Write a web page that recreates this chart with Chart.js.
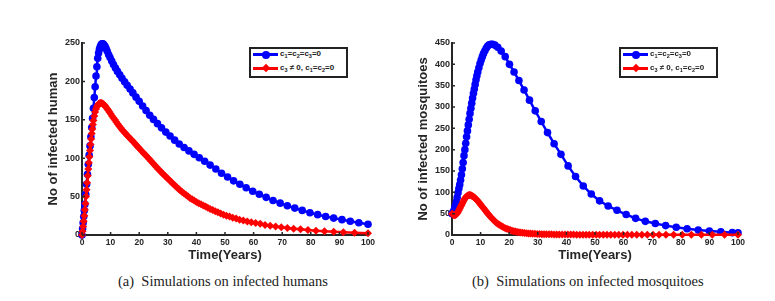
<!DOCTYPE html>
<html>
<head>
<meta charset="utf-8">
<script src="https://cdn.jsdelivr.net/npm/chart.js@4.4.0/dist/chart.umd.min.js"></script>
<style>
    body { margin: 0; background: #fff; width: 775px; height: 301px; position: relative; overflow: hidden; font-family: 'Liberation Sans', Arial, sans-serif; }
    canvas { position: absolute; }
    .legend { position: absolute; top: 47px; width: 95px; height: 27px; border: 2px solid #222; background: #fff; font-size: 8px; font-weight: bold; color: #222; }
    .row { position: absolute; left: 1px; width: 93px; height: 10px; }
    .row .ln { position: absolute; left: 1px; top: 4px; width: 25px; height: 3px; }
    .row .dot { position: absolute; left: 10px; top: 1.5px; width: 8px; height: 8px; border-radius: 50%; }
    .row .dia { position: absolute; left: 11px; top: 2px; width: 6px; height: 6px; transform: rotate(45deg); }
    .row .tx { position: absolute; left: 28px; top: 0; line-height: 10px; white-space: nowrap; }
    .row sub { font-size: 5.5px; vertical-align: -2px; line-height: 0; }
    .cap { position: absolute; top: 273px; font-family: 'Liberation Serif', 'Times New Roman', serif; font-size: 14.5px; color: #222; white-space: nowrap; }
</style>
</head>
<body>
<canvas id="humanChart" width="340" height="240" style="left:40px;top:30px"></canvas>
<canvas id="mosqChart" width="340" height="240" style="left:410px;top:30px"></canvas>

<div class="legend" style="left:249px">
    <div class="row" style="top:0"><div class="ln" style="background:#0000ff"></div><div class="dot" style="background:#0000ff"></div><div class="tx">c<sub>1</sub>=c<sub>2</sub>=c<sub>3</sub>=0</div></div>
    <div class="row" style="top:14px"><div class="ln" style="background:#ff0000"></div><div class="dia" style="background:#ff0000"></div><div class="tx">c<sub>3</sub> &#8800; 0, c<sub>1</sub>=c<sub>2</sub>=0</div></div>
</div>
<div class="legend" style="left:619px">
    <div class="row" style="top:0"><div class="ln" style="background:#0000ff"></div><div class="dot" style="background:#0000ff"></div><div class="tx">c<sub>1</sub>=c<sub>2</sub>=c<sub>3</sub>=0</div></div>
    <div class="row" style="top:14px"><div class="ln" style="background:#ff0000"></div><div class="dia" style="background:#ff0000"></div><div class="tx">c<sub>3</sub> &#8800; 0, c<sub>1</sub>=c<sub>2</sub>=0</div></div>
</div>

<div class="cap" style="left:118px">(a)&nbsp; Simulations on infected humans</div>
<div class="cap" style="left:472px">(b)&nbsp; Simulations on infected mosquitoes</div>

<script>
// [time (years), value]
const humanBlue = [
    [0,0],[0.2,8],[0.4,16],[0.6,24],[0.8,32],[1.0,40],[1.3,53],[1.6,66],[1.9,79],[2.2,92],
    [2.5,104],[2.8,116],[3.1,128],[3.4,140],[3.7,152],[4.0,165],[4.3,179],[4.6,193],[4.9,207],[5.2,219],
    [5.5,230],[5.8,237],[6.1,242],[6.4,245.5],[6.7,248],[7.0,249],[7.3,249],[7.6,248],[8.0,246],[8.4,243],
    [8.8,239.5],[9.3,235],[9.8,231],[10.4,226.5],[11.0,222],[11.7,217.5],[12.4,213],[13.2,208.5],[14.0,204],[14.9,199.5],
    [15.8,195],[16.8,190],[17.8,185],[18.9,179.5],[20.0,174],[21.2,168],[22.4,162],[23.7,156],[25.0,150.5],[26.4,145],
    [27.8,139.5],[29.3,134],[30.8,129],[32.4,123.5],[34.0,118.5],[35.7,114],[37.4,109.5],[39.2,105],[41.0,100.5],[42.9,96],
    [44.8,91],[46.8,86],[48.8,80.5],[50.9,75.5],[53.0,70.5],[55.2,66],[57.4,61.5],[59.7,57],[62.0,53],[64.4,49],
    [66.8,45],[69.3,41.5],[71.8,38],[74.4,35],[77.0,32],[79.7,29],[82.4,26.5],[85.2,24],[88.0,22],[90.9,20],
    [93.8,18],[96.8,16],[100,14]
];

const humanRed = [
    [0,0],[0.2,5],[0.4,11],[0.6,18],[0.8,25],[1.0,33],[1.2,41],[1.4,50],[1.6,59],[1.8,68],
    [2.0,77],[2.2,86],[2.4,94],[2.6,102],[2.8,110],[3.0,118],[3.2,125],[3.4,132],[3.6,138],[3.8,144],
    [4.0,149],[4.3,155],[4.6,160],[4.9,164],[5.2,167],[5.5,169],[5.8,170.5],[6.1,171.5],[6.4,172],[6.7,172],
    [7.0,171.5],[7.3,171],[7.6,170],[8.0,168.5],[8.4,166.5],[8.8,164.5],[9.2,162.5],[9.6,160],[10.0,158],[10.5,155],
    [11.0,152.5],[11.5,150],[12.0,147],[12.5,144.5],[13.0,142],[13.5,139.5],[14.0,137],[14.5,135],[15.0,133],[15.5,131],
    [16.0,129],[16.5,127],[17.0,125],[17.5,123],[18.0,121],[18.5,119],[19.0,117],[19.5,115],[20.0,113],[20.6,110.5],
    [21.2,108],[21.8,105.5],[22.4,103.5],[23.0,101],[23.6,98.5],[24.2,96],[24.8,93.5],[25.4,91],[26.0,88.5],[26.6,86],
    [27.2,84],[27.8,81.5],[28.4,79],[29.0,77],[29.6,75],[30.2,72.5],[30.8,70.5],[31.4,68.5],[32.0,66],[32.6,64],
    [33.2,62],[33.8,60],[34.4,58],[35.0,56],[35.7,54],[36.4,52],[37.1,50],[37.8,48],[38.5,46.5],[39.2,45],
    [40.0,43],[40.8,41.5],[41.6,40],[42.4,38.5],[43.2,37],[44.0,35.5],[44.8,34],[45.7,32.5],[46.6,31],[47.5,29.5],
    [48.5,28],[49.5,26.5],[50.5,25],[51.6,24],[52.7,22.5],[53.9,21.5],[55.1,20],[56.4,19],[57.8,17.5],[59.2,16.5],
    [60.7,15.5],[62.3,14.5],[64.0,13],[65.8,12],[67.7,11],[69.7,10],[71.8,9],[74.0,8],[76.4,7.5],[79.0,6.5],
    [81.8,5.5],[84.8,5],[88.0,4.2],[91.4,3.5],[95.3,3],[100,2.4]
];

const mosqBlue = [
    [0,50],[0.3,52],[0.6,56],[0.9,62],[1.2,69],[1.5,78],[1.8,88],[2.1,99],[2.4,109],[2.7,118],
    [3.0,129],[3.3,141],[3.6,155],[3.9,170],[4.2,186],[4.5,200],[4.8,215],[5.1,230],[5.4,244],[5.7,258],
    [6.0,271],[6.3,285],[6.6,297],[6.9,309],[7.2,321],[7.5,332],[7.8,342],[8.1,353],[8.4,364],[8.7,373],
    [9.0,382],[9.4,392],[9.8,402],[10.2,410],[10.6,418],[11.0,425],[11.5,432],[12.0,438],[12.5,443],[13.0,446],
    [13.6,447],[14.2,447],[15.0,445],[16.0,440],[17.2,431],[18.6,418],[20.1,400],[21.7,382],[23.4,362],[25.2,340],
    [27.1,316],[29.1,291],[31.2,266],[33.4,240],[35.7,214],[38.1,189],[40.6,162],[43.2,137],[45.9,115],[48.7,96],
    [51.6,80],[54.6,68],[57.7,58],[60.9,48],[64.2,39],[67.6,32],[71.1,27],[74.7,22],[78.4,18],[82.2,14.5],
    [86.1,11.5],[90.0,9.5],[94.0,7.5],[98.0,5.5],[100,5]
];

const mosqRed = [
    [0,50],[0.3,48],[0.6,47],[0.9,46.5],[1.2,47],[1.5,48.5],[1.8,51],[2.1,54],[2.4,58],[2.7,62],
    [3.0,66],[3.3,70],[3.6,74],[3.9,78],[4.2,82],[4.5,85.5],[4.8,88.5],[5.1,90.5],[5.4,92],[5.7,93],
    [6.0,93.5],[6.3,93.5],[6.6,93],[6.9,92],[7.2,91],[7.5,89.5],[7.8,88],[8.1,86],[8.4,84],[8.7,82],
    [9.0,79.5],[9.4,76.5],[9.8,73],[10.2,70],[10.6,66.5],[11.0,63],[11.4,59.5],[11.8,56],[12.2,52.5],[12.6,49],
    [13.0,46],[13.5,42],[14.0,38.5],[14.5,35],[15.0,32],[15.5,29],[16.0,26.5],[16.5,24],[17.0,22],[17.5,20],
    [18.0,18],[18.6,16],[19.2,14.5],[19.8,13],[20.4,11.5],[21.0,10.2],[21.6,9],[22.2,8],[22.8,7.2],[23.4,6.5],
    [24.0,5.8],[24.7,5.2],[25.4,4.6],[26.1,4.1],[26.8,3.7],[27.5,3.3],[28.2,3],[29.0,2.7],[29.8,2.4],[30.6,2.2],
    [31.4,2],[32.2,1.8],[33.0,1.7],[33.9,1.6],[34.8,1.5],[35.7,1.4],[36.6,1.3],[37.5,1.2],[38.5,1.1],[39.5,1],
    [40.5,1],[41.5,0.9],[42.5,0.9],[43.6,0.8],[44.7,0.8],[45.8,0.8],[46.9,0.7],[48.0,0.7],[49.2,0.7],[50.4,0.7],
    [51.6,0.6],[52.9,0.6],[54.2,0.6],[55.5,0.6],[56.9,0.6],[58.3,0.6],[59.8,0.5],[61.3,0.5],[62.9,0.5],[64.6,0.5],
    [66.4,0.5],[68.3,0.5],[70.3,0.5],[72.4,0.5],[74.8,0.5],[77.5,0.5],[80.5,0.5],[83.7,0.5],[87.2,0.5],[91.0,0.5],
    [95.3,0.5],[100,0.5]
];

const xTicks = [0, 10, 20, 30, 40, 50, 60, 70, 80, 90, 100];
const humanTicks = [0, 50, 100, 150, 200, 250];
const mosqTicks = [0, 50, 100, 150, 200, 250, 300, 350, 400, 450];

const blueLabel = 'c1=c2=c3=0';
const redLabel = 'c3 \u2260 0, c1=c2=0';

// MATLAB style ticks that point into the plot
const innerTicks = {
    id: 'innerTicks',
    afterDraw(chart) {
        const ctx = chart.ctx;
        const x = chart.scales.x;
        const y = chart.scales.y;
        ctx.save();
        ctx.strokeStyle = '#262626';
        ctx.lineWidth = 1.5;
        ctx.beginPath();
        x.ticks.forEach(t => {
            const px = x.getPixelForValue(t.value);
            ctx.moveTo(px, y.bottom);
            ctx.lineTo(px, y.bottom - 3);
        });
        y.ticks.forEach(t => {
            const py = y.getPixelForValue(t.value);
            ctx.moveTo(x.left, py);
            ctx.lineTo(x.left + 3, py);
        });
        ctx.stroke();
        ctx.restore();
    }
};

function toPoints(list) {
    return list.map(p => ({ x: p[0], y: p[1] }));
}

function makeChart(id, blue, red, yTicks, yTitle) {
    const ctx = document.getElementById(id).getContext('2d');
    return new Chart(ctx, {
        type: 'line',
        data: {
            datasets: [{
                label: redLabel,
                data: toPoints(red),
                borderColor: '#ff0000',
                backgroundColor: '#ff0000',
                borderWidth: 2.5,
                pointStyle: 'rectRot',
                pointRadius: 4,
                pointBorderWidth: 0,
                order: 0,
                clip: false
            }, {
                label: blueLabel,
                data: toPoints(blue),
                borderColor: '#0000ff',
                backgroundColor: '#0000ff',
                borderWidth: 2.5,
                pointStyle: 'circle',
                pointRadius: 3.8,
                pointBorderWidth: 0,
                order: 1,
                clip: false
            }]
        },
        options: {
            responsive: false,
            animation: false,
            layout: { padding: { top: 13, right: 12, left: 0, bottom: 0 } },
            plugins: { legend: { display: false }, tooltip: { enabled: false } },
            scales: {
                x: {
                    type: 'linear',
                    min: 0,
                    max: 100,
                    afterFit: s => { s.height = 35; },
                    afterBuildTicks: s => { s.ticks = xTicks.map(v => ({ value: v })); },
                    grid: { drawOnChartArea: false, drawTicks: false },
                    border: { display: true, color: '#262626', width: 2 },
                    ticks: { padding: 3, color: '#262626', font: { family: 'Liberation Sans', size: 8.5, weight: 'bold' } },
                    title: {
                        display: true,
                        text: 'Time(Years)',
                        color: '#262626',
                        padding: { top: 0, bottom: 7 },
                        font: { family: 'Liberation Sans', size: 13, weight: 'bold' }
                    }
                },
                y: {
                    min: 0,
                    max: yTicks[yTicks.length - 1],
                    afterFit: s => { s.width = 42; },
                    afterBuildTicks: s => { s.ticks = yTicks.map(v => ({ value: v })); },
                    grid: { drawOnChartArea: false, drawTicks: false },
                    border: { display: true, color: '#262626', width: 2 },
                    ticks: { padding: 2, color: '#262626', font: { family: 'Liberation Sans', size: 9, weight: 'bold' } },
                    title: {
                        display: true,
                        text: yTitle,
                        color: '#262626',
                        padding: { top: 6, bottom: 0 },
                        font: { family: 'Liberation Sans', size: 13, weight: 'bold' }
                    }
                }
            }
        },
        plugins: [innerTicks]
    });
}

makeChart('humanChart', humanBlue, humanRed, humanTicks, 'No of infected human');
makeChart('mosqChart', mosqBlue, mosqRed, mosqTicks, 'No of infected mosquitoes');
</script>
</body>
</html>
